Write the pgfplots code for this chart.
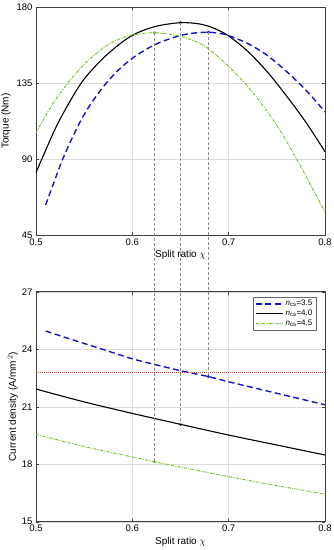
\documentclass[border=0pt]{standalone}
\usepackage{fontspec}
\setmainfont{Liberation Sans}
\usepackage{pgfplots}
\pgfplotsset{compat=1.18}
\definecolor{cblue}{rgb}{0.08,0.08,0.8}
\definecolor{cgreen}{rgb}{0.42,0.75,0.12}
\definecolor{cred}{rgb}{0.78,0.22,0.08}
\definecolor{gridc}{rgb}{0.86,0.86,0.86}
\pgfplotsset{
  mystyle/.style={
    scale only axis, width=289pt,
    xmin=0.5, xmax=0.8,
    xtick={0.5,0.6,0.7,0.8},
    xticklabels={0.5,0.6,0.7,0.8},
    grid=major, major grid style={gridc, line width=0.4pt},
    axis line style={black!75, line width=0.5pt},
    tick style={black!75, line width=0.4pt},
    tick align=inside, major tick length=3pt,
    ticklabel style={font=\fontsize{9.5}{10}\selectfont},
    label style={font=\fontsize{10}{11}\selectfont},
    /pgf/number format/assume math mode=true,
    xlabel={Split ratio \raisebox{-0.5pt}{$\chi$}},
    xlabel style={yshift=2pt},
    clip=false,
  },
  bluel/.style={cblue, line width=1.4pt, dash pattern=on 6pt off 3.5pt, smooth, tension=0.5},
  blackl/.style={black, line width=1.1pt, smooth, tension=0.5},
  greenl/.style={cgreen, line width=0.9pt, dash pattern=on 3pt off 1.3pt on 1pt off 1.3pt, smooth, tension=0.5},
}
\begin{document}
\begin{tikzpicture}
\useasboundingbox (0,0) rectangle (334pt,550pt);
% ---------------- Top: torque ----------------
\begin{axis}[mystyle,
  at={(36pt,315pt)}, anchor=south west, height=227.7pt,
  ymin=45, ymax=180, ytick={45,90,135,180},
  ylabel={Torque (Nm)}, ylabel style={yshift=-1pt},
]
\addplot[bluel] coordinates {
(0.51,62.8) (0.526,87.5) (0.535,99.4) (0.545,111.2) (0.555,121.1) (0.57,133)
(0.585,142.5) (0.60,149.8) (0.615,155.3) (0.63,159.5) (0.65,163.3) (0.665,164.8)
(0.679,165.2) (0.69,164.6) (0.70,163.2) (0.72,158.5) (0.74,151.5) (0.76,142)
(0.78,131) (0.80,118)};
\addplot[blackl] coordinates {
(0.50,82.0) (0.52,108) (0.535,124) (0.55,137.5) (0.57,150) (0.59,159.6)
(0.605,164.8) (0.625,168.8) (0.65,170.9) (0.67,170.1) (0.685,167.5) (0.70,163.0)
(0.72,153.8) (0.74,141.8) (0.76,127.5) (0.78,112) (0.80,94.4)};
\addplot[greenl] coordinates {
(0.50,105.5) (0.517,122.5) (0.535,136.5) (0.552,147.3) (0.569,155.6) (0.585,160.8)
(0.60,163.6) (0.623,164.9) (0.65,162.8) (0.675,157) (0.70,145) (0.725,129.5)
(0.75,110) (0.775,85.5) (0.80,58.5)};
\addplot[only marks, mark=*, mark size=1.3pt, cblue] coordinates {(0.679,165.2)};
\addplot[only marks, mark=*, mark size=1.3pt, black] coordinates {(0.65,170.9)};
\addplot[only marks, mark=*, mark size=1.3pt, cgreen] coordinates {(0.623,164.9)};
\coordinate (tB) at (axis cs:0.679,165.2);
\coordinate (tK) at (axis cs:0.65,170.9);
\coordinate (tG) at (axis cs:0.623,164.9);
\end{axis}
% ---------------- Bottom: current density ----------------
\begin{axis}[mystyle,
  at={(36pt,28.3pt)}, anchor=south west, height=230pt,
  ymin=15, ymax=27, ytick={15,18,21,24,27},
  ylabel={Current density (A/mm$^{\,2}$)}, ylabel style={yshift=-3pt},
  legend style={at={(rel axis cs:1,1)}, xshift=-9pt, yshift=-5pt, anchor=north east,
    font=\fontsize{8}{9}\selectfont, draw=black!60, line width=0.4pt,
    inner sep=1.5pt, row sep=-1.5pt, cells={anchor=west}},
  legend image code/.code={\draw[#1] (0pt,0pt) -- (27pt,0pt);},
]
\addplot[bluel] coordinates {
(0.51,24.95) (0.53,24.62) (0.55,24.30) (0.575,23.90) (0.60,23.50) (0.625,23.18)
(0.65,22.88) (0.679,22.57) (0.70,22.30) (0.725,22.00) (0.75,21.70) (0.775,21.40) (0.80,21.10)};
\addlegendentry{\textit{n}\textsubscript{cs}=3.5}
\addplot[blackl] coordinates {
(0.50,21.92) (0.55,21.25) (0.60,20.65) (0.65,20.08) (0.70,19.52) (0.75,19.00) (0.80,18.48)};
\addlegendentry{\textit{n}\textsubscript{cs}=4.0}
\addplot[greenl] coordinates {
(0.50,19.56) (0.55,18.92) (0.60,18.38) (0.623,18.13) (0.65,17.85) (0.70,17.35) (0.75,16.88) (0.80,16.44)};
\addlegendentry{\textit{n}\textsubscript{cs}=4.5}
\addplot[cred, line width=1pt, dash pattern=on 0.8pt off 1.2pt, forget plot] coordinates {(0.5,22.78) (0.8,22.78)};
\addplot[only marks, mark=*, mark size=1.3pt, cblue, forget plot] coordinates {(0.679,22.57)};
\addplot[only marks, mark=*, mark size=1.3pt, black, forget plot] coordinates {(0.65,20.08)};
\addplot[only marks, mark=*, mark size=1.3pt, cgreen, forget plot] coordinates {(0.623,18.13)};
\coordinate (bB) at (axis cs:0.679,22.57);
\coordinate (bK) at (axis cs:0.65,20.08);
\coordinate (bG) at (axis cs:0.623,18.13);
\end{axis}
\draw[black!45, line width=0.4pt, dash pattern=on 3pt off 2pt] (tB) -- (bB);
\draw[black!45, line width=0.4pt, dash pattern=on 3pt off 2pt] (tK) -- (bK);
\draw[black!45, line width=0.4pt, dash pattern=on 3pt off 2pt] (tG) -- (bG);
\end{tikzpicture}
\end{document}
